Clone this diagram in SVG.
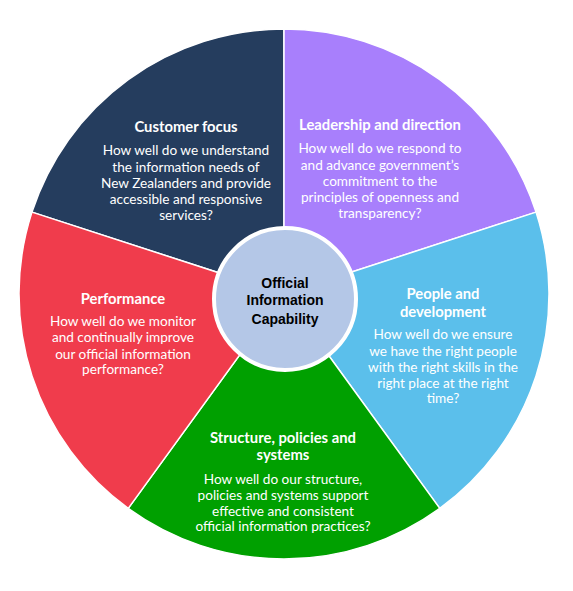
<svg xmlns="http://www.w3.org/2000/svg" width="573" height="591" viewBox="0 0 573 591">
<style>
.seg{stroke:#ffffff;stroke-width:1.5;stroke-linejoin:round}
.t{font-family:Lato,"Open Sans",sans-serif;font-weight:bold;font-size:14.8px;fill:#ffffff;text-anchor:middle}
.b{font-family:Lato,"Open Sans",sans-serif;font-size:13.6px;fill:#ffffff;text-anchor:middle}
.c{font-family:"Liberation Sans",Arial,sans-serif;font-weight:bold;font-size:14px;fill:#000000;text-anchor:middle}
</style>
<rect width="573" height="591" fill="#ffffff"/>
<g id="customer-focus">
<path class="seg" fill="#253D5E" d="M284,294 L31.97,212.11 A265,265 0 0 1 284,29 Z"/>
<text class="t" x="186" y="132">Customer focus</text>
<text class="b" x="186" y="155">How well do we understand</text>
<text class="b" x="186" y="172">the information needs of</text>
<text class="b" x="186" y="188">New Zealanders and provide</text>
<text class="b" x="186" y="204">accessible and responsive</text>
<text class="b" x="186" y="220">services?</text>
</g>
<g id="leadership">
<path class="seg" fill="#A87FFC" d="M284,294 L284,29 A265,265 0 0 1 536.03,212.11 Z"/>
<text class="t" x="380" y="130">Leadership and direction</text>
<text class="b" x="380" y="153">How well do we respond to</text>
<text class="b" x="380" y="170">and advance government’s</text>
<text class="b" x="380" y="186">commitment to the</text>
<text class="b" x="380" y="202">principles of openness and</text>
<text class="b" x="380" y="218">transparency?</text>
</g>
<g id="people">
<path class="seg" fill="#5BBFEB" d="M284,294 L536.03,212.11 A265,265 0 0 1 439.76,508.39 Z"/>
<text class="t" x="443" y="299">People and</text>
<text class="t" x="443" y="317">development</text>
<text class="b" x="443" y="339">How well do we ensure</text>
<text class="b" x="443" y="356">we have the right people</text>
<text class="b" x="443" y="372">with the right skills in the</text>
<text class="b" x="443" y="388">right place at the right</text>
<text class="b" x="443" y="403">time?</text>
</g>
<g id="structure">
<path class="seg" fill="#00A000" d="M284,294 L439.76,508.39 A265,265 0 0 1 128.24,508.39 Z"/>
<text class="t" x="283" y="443">Structure, policies and</text>
<text class="t" x="283" y="460">systems</text>
<text class="b" x="283" y="484">How well do our structure,</text>
<text class="b" x="283" y="500">policies and systems support</text>
<text class="b" x="283" y="516">effective and consistent</text>
<text class="b" x="283" y="531">official information practices?</text>
</g>
<g id="performance">
<path class="seg" fill="#F03C4C" d="M284,294 L128.24,508.39 A265,265 0 0 1 31.97,212.11 Z"/>
<text class="t" x="123" y="304">Performance</text>
<text class="b" x="123" y="326">How well do we monitor</text>
<text class="b" x="123" y="342">and continually improve</text>
<text class="b" x="123" y="359">our official information</text>
<text class="b" x="123" y="374">performance?</text>
</g>
<g id="center">
<circle cx="285" cy="299" r="71" fill="#B4C7E7" stroke="#ffffff" stroke-width="4"/>
<text class="c" x="285" y="288">Official</text>
<text class="c" x="285" y="305">Information</text>
<text class="c" x="285" y="324">Capability</text>
</g>
</svg>
